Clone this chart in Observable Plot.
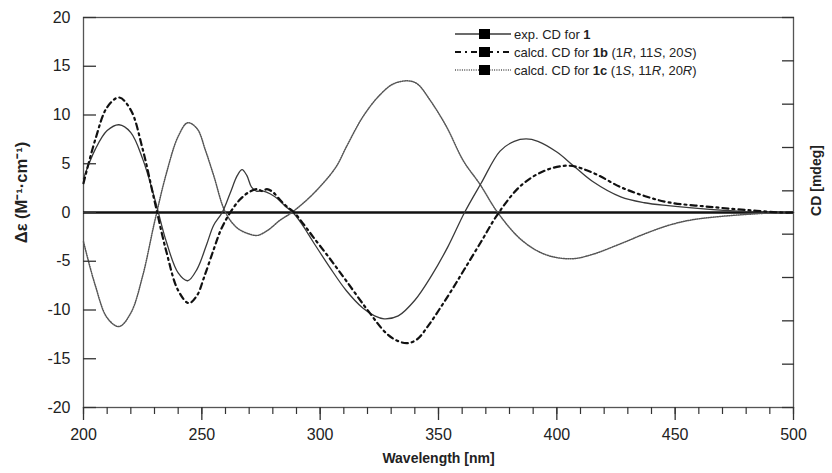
<!DOCTYPE html>
<html>
<head>
<meta charset="utf-8">
<script src="https://cdn.jsdelivr.net/npm/d3@7"></script>
<script src="https://cdn.jsdelivr.net/npm/@observablehq/plot@0.6"></script>
<style>
  body { margin: 0; background: #fff; }
  #wrap { position: relative; width: 832px; height: 473px; }
  #legend { position: absolute; left: 0; top: 0; pointer-events: none; }
</style>
</head>
<body>
<div id="wrap"></div>
<script>
// ---- data ----
const nmExp = [200,205,210,215,220,225,230,235,240,244,248,252,255,258.6,262,265,267,269,271,273,276,279,282,285,288.5,292,297,304,311,318,323,327,333,340,347,354,361,368,376,382,387,392,400,407,415,427,437,447,466,480,495,500];
const cdExp = [3.5,6.5,8.4,9.0,8.2,5.5,1.5,-3.0,-6.2,-7.0,-5.8,-3.3,-1.3,0,2.0,3.8,4.4,3.8,2.6,2.2,2.2,1.9,1.4,0.7,0,-1.1,-3.0,-5.6,-8.0,-9.8,-10.6,-10.9,-10.6,-9.0,-6.5,-3.5,0,3.0,6.3,7.3,7.55,7.3,6.2,4.8,3.2,1.6,1.0,0.7,0.3,0.1,0,0];

const nm1b = [200,205,210,215,220,225,230,235,240,244.5,248,251,255,258,262,266,270,273.5,275.5,277.5,280,283,286,289,293,297,304,311,320,328,333,337,341,346,351,356,361,368,375.5,385,395,405,415,427,437,447,466,483,495,500];
const cd1b = [3.0,7.5,10.8,11.8,10.5,6.5,1.2,-4.0,-8.0,-9.3,-8.5,-6.6,-3.8,-1.8,0,1.3,2.1,2.4,2.2,2.4,2.1,1.3,0.6,0,-1.2,-2.5,-4.7,-7.0,-10.0,-12.4,-13.2,-13.4,-13.0,-11.5,-9.7,-7.8,-5.8,-3.0,0,2.8,4.3,4.8,4.1,2.6,1.7,1.05,0.55,0.2,0,0];

const nm1c = [200,205,210,215,220,225,230,235,240,244,248,251.5,255,260,265,270,273.5,278,283,288,297,306.5,311,318,325,331,337,341,346.5,353.5,360.5,367.5,375,385,395,406,415,427,437,447,456,466,483,495,500];
const cd1c = [-3.0,-7.5,-10.8,-11.7,-10.3,-6.5,-1.0,4.0,7.8,9.2,8.6,6.4,3.8,0,-1.6,-2.2,-2.35,-1.8,-0.8,0,1.9,4.6,6.7,9.8,12.0,13.2,13.5,13.2,11.5,8.75,5.3,2.9,0,-2.8,-4.3,-4.75,-4.3,-3.2,-2.2,-1.33,-0.8,-0.48,-0.15,0,0];

const xMajorTicks = [200,250,300,350,400,450,500];
const xMinorTicks = d3.range(200, 501, 10);
const yTicks = [-20,-15,-10,-5,0,5,10,15,20];
const cdTicksMdeg = [-45,-35,-25,-15,-5,5,15,25,35,45]; // right axis, unlabeled
const mdegPerUnit = 45 / 20;

const seriesNames = ["exp. CD for 1", "calcd. CD for 1b (1R, 11S, 20S)", "calcd. CD for 1c (1S, 11R, 20R)"];

// ---- build tables ----
const toRows = (xs, ys) => xs.map((x, i) => ({nm: x, de: ys[i]}));
const rowsExp = toRows(nmExp, cdExp);
const rows1b = toRows(nm1b, cd1b);
const rows1c = toRows(nm1c, cd1c);

const styles = [
  {stroke: "#3a3a3a", strokeWidth: 1.3, dash: null},
  {stroke: "#111", strokeWidth: 2.2, dash: "6,4,2,4"},
  {stroke: "#555", strokeWidth: 1.5, dash: "1,1.3"}
];

const font = "'Liberation Sans', Arial, Helvetica, sans-serif";
const plain = d => `${d}`;

const chart = Plot.plot({
  width: 832,
  height: 473,
  marginTop: 17,
  marginRight: 39,
  marginBottom: 66,
  marginLeft: 83,
  style: {fontFamily: font, fontSize: "16px", color: "#222", background: "white"},
  x: {domain: [200, 500], label: null},
  y: {domain: [-20, 20], label: null},
  marks: [
    Plot.frame({stroke: "#555", strokeWidth: 1.3}),
    Plot.ruleY([0], {stroke: "#111", strokeWidth: 2.4}),
    Plot.line(rows1c, {x: "nm", y: "de", stroke: styles[2].stroke, strokeWidth: styles[2].strokeWidth, strokeDasharray: styles[2].dash, curve: "catmull-rom"}),
    Plot.line(rowsExp, {x: "nm", y: "de", stroke: styles[0].stroke, strokeWidth: styles[0].strokeWidth, curve: "catmull-rom"}),
    Plot.line(rows1b, {x: "nm", y: "de", stroke: styles[1].stroke, strokeWidth: styles[1].strokeWidth, strokeDasharray: styles[1].dash, curve: "catmull-rom"}),
    Plot.axisX({ticks: xMajorTicks, tickSize: 13, tickPadding: 8, fontSize: 16, tickFormat: plain, stroke: "#333", strokeWidth: 1.3}),
    Plot.axisX({ticks: xMinorTicks, tickSize: 7, tickFormat: () => "", stroke: "#333", strokeWidth: 1.2}),
    Plot.axisY({ticks: yTicks, tickSize: -13, tickPadding: 26, fontSize: 16, tickFormat: plain, stroke: "#333", strokeWidth: 1.3}),
    Plot.axisY({anchor: "right", ticks: cdTicksMdeg.map(v => v / mdegPerUnit), tickSize: -12, tickFormat: () => "", stroke: "#333", strokeWidth: 1.3}),
    Plot.text(["Δε (M⁻¹·cm⁻¹)"], {frameAnchor: "left", textAnchor: "middle", dx: -62, dy: -20, rotate: -90, fontWeight: "bold", fontSize: 16.5, fill: "#222"}),
    Plot.text(["CD [mdeg]"], {frameAnchor: "right", textAnchor: "middle", dx: 23, dy: -32, rotate: -90, fontWeight: "bold", fontSize: 14, fill: "#222"}),
    Plot.text(["Wavelength [nm]"], {frameAnchor: "bottom", dy: 55, fontWeight: "bold", fontSize: 14, fill: "#222"})
  ]
});

const wrap = document.getElementById("wrap");
wrap.appendChild(chart);

// ---- legend overlay ----
const svg = d3.select(wrap).append("svg").attr("id", "legend").attr("width", 832).attr("height", 473);
const legendParts = [
  [["exp. CD for ", ""], ["1", "b"]],
  [["calcd. CD for ", ""], ["1b", "b"], [" (1", ""], ["R", "i"], [", 11", ""], ["S", "i"], [", 20", ""], ["S", "i"], [")", ""]],
  [["calcd. CD for ", ""], ["1c", "b"], [" (1", ""], ["S", "i"], [", 11", ""], ["R", "i"], [", 20", ""], ["R", "i"], [")", ""]]
];
legendParts.forEach((parts, i) => {
  const y = 34 + i * 18;
  const st = styles[i];
  svg.append("line").attr("x1", 455).attr("x2", 511).attr("y1", y).attr("y2", y)
    .attr("stroke", st.stroke).attr("stroke-width", st.strokeWidth)
    .attr("stroke-dasharray", st.dash);
  svg.append("rect").attr("x", 479).attr("y", y - 5).attr("width", 11).attr("height", 10).attr("fill", "#000");
  const t = svg.append("text").attr("x", 514).attr("y", y + 4.5)
    .attr("font-family", font).attr("font-size", 13).attr("fill", "#222");
  parts.forEach(([s, f]) => {
    const ts = t.append("tspan").text(s);
    if (f === "b") ts.attr("font-weight", "bold");
    if (f === "i") ts.attr("font-style", "italic");
  });
});
</script>
</body>
</html>
